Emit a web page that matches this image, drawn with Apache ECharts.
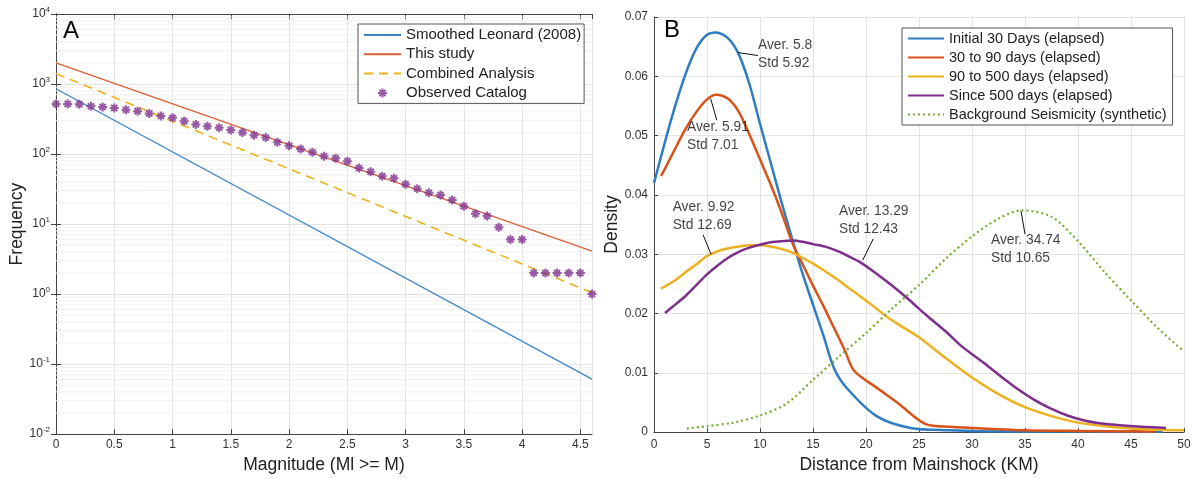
<!DOCTYPE html>
<html><head><meta charset="utf-8">
<script src="https://cdn.jsdelivr.net/npm/echarts@6/dist/echarts.min.js"></script>
<style>html,body{margin:0;padding:0;background:#fff}#c{width:1195px;height:479px}</style>
</head><body><div id="c"></div><script>
// ---------- Panel A data ----------
const magnitudes = [0,0.1,0.2,0.3,0.4,0.5,0.6,0.7,0.8,0.9,1.0,1.1,1.2,1.3,1.4,1.5,1.6,1.7,1.8,1.9,2.0,2.1,2.2,2.3,2.4,2.5,2.6,2.7,2.8,2.9,3.0,3.1,3.2,3.3,3.4,3.5,3.6,3.7,3.8,3.9,4.0,4.1,4.2,4.3,4.4,4.5,4.6];
const observedCounts = [520,520,515,480,470,455,430,410,380,350,330,295,265,250,238,220,203,186,172,147,131,118,106,93,87,79,63,56,48,45,37,32,28,26,22,18,14,13,9,6,6,2,2,2,2,2,1];
const leonardLine = [[0, 855], [4.6, 0.061]];
const thisStudyLine = [[0, 2000], [4.6, 4.1]];
const combinedLine = [[0, 1410], [4.6, 1.05]];

// ---------- Panel B data ----------
const initial30 = [[0,0.042],[1,0.0487],[2,0.0550],[3,0.0605],[4,0.0647],[5,0.0670],[5.85,0.0674],[7,0.0664],[8,0.0637],[9,0.0587],[10,0.0520],[11,0.0455],[12,0.0390],[13,0.0328],[14,0.0268],[15,0.0215],[16,0.0162],[17,0.0107],[18.2,0.0074],[21,0.0027],[24.2,0.0007],[27.9,0.0003],[33,0.0001],[40,0.0001],[48,0.0001]];
const days30to90 = [[0.66,0.0432],[1,0.0443],[2,0.0478],[3,0.0512],[4,0.0540],[5,0.0561],[5.85,0.0569],[7,0.0562],[8,0.0540],[9,0.0502],[10,0.0460],[11,0.0418],[12,0.0372],[13.1,0.0317],[14,0.0284],[15,0.0247],[16,0.0212],[17,0.0175],[18,0.0138],[18.9,0.0103],[21,0.0075],[23,0.0049],[25.7,0.0013],[28,0.0009],[31,0.0006],[35,0.0003],[40,0.0002],[47.3,0.0001]];
const days90to500 = [[0.66,0.0242],[2,0.0256],[3,0.0270],[4,0.0283],[5,0.0297],[6,0.0305],[7,0.0310],[8,0.0313],[9,0.0315],[10,0.0315],[11,0.0313],[12,0.0309],[13,0.0303],[14,0.0294],[15,0.0284],[16,0.0273],[17,0.0261],[18,0.0248],[19,0.0235],[20,0.0222],[21,0.0208],[22,0.0194],[23.2,0.0180],[25,0.0160],[27.5,0.0125],[30,0.0092],[32.5,0.0064],[35,0.0042],[37.5,0.0027],[40,0.0016],[42.5,0.0010],[45,0.0006],[47.5,0.0004],[50,0.0003]];
const since500 = [[1.04,0.0201],[2,0.0215],[3,0.0230],[4,0.0248],[5,0.0266],[6,0.0281],[7,0.0294],[8,0.0304],[9,0.0311],[10,0.0316],[11,0.0320],[12,0.0322],[13.1,0.0323],[14,0.0321],[15,0.0317],[16.3,0.0312],[17.5,0.0304],[18.5,0.0295],[19.4,0.0287],[21,0.0267],[22.6,0.0245],[24,0.0224],[25.7,0.0197],[27.5,0.0170],[29,0.0145],[31.1,0.0117],[32.5,0.0097],[34.2,0.0074],[36,0.0053],[37.4,0.0040],[39,0.0028],[40.5,0.0020],[42,0.0015],[43.7,0.0012],[46,0.0009],[48.3,0.0007]];
const background = [[3.1,0.0006],[5,0.0010],[7.5,0.0016],[10,0.0028],[12.5,0.0048],[15,0.0088],[17.5,0.0128],[20,0.0167],[22.5,0.0209],[25,0.0248],[27.5,0.0292],[30,0.0330],[32.5,0.0360],[34.7,0.0374],[37.5,0.0363],[40,0.0322],[42.5,0.0270],[45,0.0222],[47.5,0.0176],[50,0.0136]];

const annotationTexts = ['Aver. 5.8\nStd 5.92','Aver. 5.91\nStd 7.01','Aver. 9.92\nStd 12.69','Aver. 13.29\nStd 12.43','Aver. 34.74\nStd 10.65'];
const annotationAnchors = [[9.81,0.0638],[3.11,0.0499],[1.76,0.0364],[17.45,0.0358],[31.79,0.0308]];
const annotationPointers = [
  [[7.92,0.0640],[9.81,0.0635]],
  [[5.35,0.0562],[5.92,0.0526]],
  [[4.62,0.0333],[5.38,0.0300]],
  [[20.69,0.0326],[19.69,0.0290]],
  [[34.62,0.0373],[35.0,0.0334]]
];

const FONT = 'Liberation Sans, Arial, Helvetica, sans-serif';
const AX = '#444';
const LBL = '#333';
const GRIDC = '#e3e3e3';

const minorGridValues = [];
for (let e = -2; e < 4; e++) for (let k = 2; k <= 9; k++) minorGridValues.push(k * Math.pow(10, e));

const asterisk = 'path://M5,0L5,10M0,5L10,5M1.6,1.6L8.4,8.4M1.6,8.4L8.4,1.6';
const hideSym = {itemStyle: {opacity: 0}};

const minorGridSeries = minorGridValues.map(v => ({
  type: 'line', name: '_g' + v, xAxisIndex: 0, yAxisIndex: 0, data: [[0, v], [4.6, v]],
  symbol: 'none', silent: true, z: 1, lineStyle: {color: '#f0f0f0', width: 1}
}));

const chart = echarts.init(document.getElementById('c'), null, {renderer: 'canvas'});
const option = {
  animation: false,
  backgroundColor: '#fff',
  textStyle: {fontFamily: FONT},
  grid: [
    {left: 56, right: 603, top: 14, bottom: 42},
    {left: 654, right: 11, top: 17, bottom: 42}
  ],
  xAxis: [
    {gridIndex: 0, type: 'value', min: 0, max: 4.6, interval: 0.5,
     name: 'Magnitude (Ml >= M)', nameLocation: 'middle', nameGap: 13,
     nameTextStyle: {fontSize: 17.5, color: '#222', fontFamily: FONT},
     axisLine: {lineStyle: {color: AX}}, axisTick: {inside: true, length: 5, lineStyle: {color: AX}},
     axisLabel: {fontSize: 12, color: LBL, margin: 5, showMaxLabel: false, fontFamily: FONT},
     splitLine: {show: true, lineStyle: {color: GRIDC}}},
    {gridIndex: 0, type: 'value', min: 0, max: 4.6, interval: 0.5, position: 'top',
     axisLine: {lineStyle: {color: AX}}, axisTick: {inside: true, length: 5, lineStyle: {color: AX}},
     axisLabel: {show: false}, splitLine: {show: false}},
    {gridIndex: 1, type: 'value', min: 0, max: 50, interval: 5,
     name: 'Distance from Mainshock (KM)', nameLocation: 'middle', nameGap: 13,
     nameTextStyle: {fontSize: 17.5, color: '#222', fontFamily: FONT},
     axisLine: {lineStyle: {color: AX}}, axisTick: {inside: true, length: 4, lineStyle: {color: AX}},
     axisLabel: {fontSize: 12, color: LBL, margin: 7, fontFamily: FONT},
     splitLine: {show: true, lineStyle: {color: GRIDC}}}
  ],
  yAxis: [
    {gridIndex: 0, type: 'log', logBase: 10, min: 0.01, max: 10000,
     name: 'Frequency', nameLocation: 'middle', nameGap: 30, nameMoveOverlap: false,
     nameTextStyle: {fontSize: 17.5, color: '#222', fontFamily: FONT},
     axisLine: {show: true, lineStyle: {color: AX}}, axisTick: {show: true, inside: true, length: 5, lineStyle: {color: AX}},
     axisLabel: {margin: 6, formatter: v => '{b|10}{s|' + Math.round(Math.log10(v)) + '}',
       rich: {b: {fontSize: 12, color: LBL, fontFamily: FONT, lineHeight: 16},
              s: {fontSize: 8, color: LBL, fontFamily: FONT, verticalAlign: 'top', lineHeight: 8, padding: [0, 0, 8, 0]}}},
     splitLine: {show: true, lineStyle: {color: GRIDC}}},
    {gridIndex: 0, type: 'log', logBase: 10, min: 0.01, max: 10000, position: 'right',
     axisLine: {show: true, lineStyle: {color: AX}}, axisTick: {show: true, inside: true, length: 5, lineStyle: {color: AX}},
     axisLabel: {show: false}, splitLine: {show: false}},
    {gridIndex: 1, type: 'value', min: 0, max: 0.07, interval: 0.01,
     name: 'Density', nameLocation: 'middle', nameGap: 17,
     nameTextStyle: {fontSize: 17.5, color: '#222', fontFamily: FONT},
     axisLine: {show: true, lineStyle: {color: AX}}, axisTick: {show: true, inside: true, length: 4, lineStyle: {color: AX}},
     axisLabel: {fontSize: 12, color: LBL, margin: 6, fontFamily: FONT},
     splitLine: {show: true, lineStyle: {color: GRIDC}}}
  ],
  legend: [
    {left: 358, top: 24, orient: 'vertical', itemWidth: 37, itemHeight: 9, itemGap: 4.3,
     padding: [3.5, 3, 3, 5], backgroundColor: '#fff', borderColor: '#555', borderWidth: 1,
     textStyle: {fontSize: 15, color: '#222', fontFamily: FONT},
     data: [
       Object.assign({name: 'Smoothed Leonard (2008)'}, hideSym),
       Object.assign({name: 'This study'}, hideSym),
       Object.assign({name: 'Combined Analysis'}, hideSym),
       {name: 'Observed Catalog'}
     ]},
    {left: 902, top: 28, orient: 'vertical', itemWidth: 36, itemHeight: 14, itemGap: 4,
     padding: [3, 6, 3, 5], backgroundColor: '#fff', borderColor: '#555', borderWidth: 1,
     textStyle: {fontSize: 14.5, color: '#222', fontFamily: FONT},
     data: ['Initial 30 Days (elapsed)', '30 to 90 days (elapsed)', '90 to 500 days (elapsed)', 'Since 500 days (elapsed)', 'Background Seismicity (synthetic)']
       .map(n => Object.assign({name: n}, hideSym))}
  ],
  graphic: [
    {type: 'text', left: 63, top: 19, z: 10, style: {text: 'A', font: '24px ' + FONT, fill: '#000'}},
    {type: 'text', left: 664, top: 18, z: 10, style: {text: 'B', font: '24px ' + FONT, fill: '#000'}}
  ],
  series: minorGridSeries.concat([
    {type: 'line', name: 'Smoothed Leonard (2008)', xAxisIndex: 0, yAxisIndex: 0, data: leonardLine,
     symbol: 'circle', showSymbol: false, lineStyle: {color: '#3f86c8', width: 1.3}, itemStyle: {color: '#3f86c8'}, z: 2},
    {type: 'line', name: 'This study', xAxisIndex: 0, yAxisIndex: 0, data: thisStudyLine,
     symbol: 'circle', showSymbol: false, lineStyle: {color: '#d9603a', width: 1.3}, itemStyle: {color: '#d9603a'}, z: 2},
    {type: 'line', name: 'Combined Analysis', xAxisIndex: 0, yAxisIndex: 0, data: combinedLine,
     symbol: 'circle', showSymbol: false, lineStyle: {color: '#EDB120', width: 1.6, type: [9, 6]}, itemStyle: {color: '#EDB120'}, z: 2},
    {type: 'scatter', name: 'Observed Catalog', xAxisIndex: 0, yAxisIndex: 0,
     data: magnitudes.map((m, i) => [m, observedCounts[i]]),
     symbol: asterisk, symbolSize: 9, symbolKeepAspect: true,
     itemStyle: {color: '#7E2F8E', borderColor: '#7E2F8E', borderWidth: 2}, z: 3},

    {type: 'line', name: 'Initial 30 Days (elapsed)', xAxisIndex: 2, yAxisIndex: 2, data: initial30,
     symbol: 'circle', showSymbol: false, smooth: 0.3,
     lineStyle: {color: '#2f7cc2', width: 2.5}, itemStyle: {color: '#2f7cc2'}, z: 2},
    {type: 'line', name: '30 to 90 days (elapsed)', xAxisIndex: 2, yAxisIndex: 2, data: days30to90,
     symbol: 'circle', showSymbol: false, smooth: 0.3,
     lineStyle: {color: '#D95319', width: 2.5}, itemStyle: {color: '#D95319'}, z: 2},
    {type: 'line', name: '90 to 500 days (elapsed)', xAxisIndex: 2, yAxisIndex: 2, data: days90to500,
     symbol: 'circle', showSymbol: false, smooth: 0.3,
     lineStyle: {color: '#EDB120', width: 2.5}, itemStyle: {color: '#EDB120'}, z: 2},
    {type: 'line', name: 'Since 500 days (elapsed)', xAxisIndex: 2, yAxisIndex: 2, data: since500,
     symbol: 'circle', showSymbol: false, smooth: 0.3,
     lineStyle: {color: '#7E2F8E', width: 2.5}, itemStyle: {color: '#7E2F8E'}, z: 2},
    {type: 'line', name: 'Background Seismicity (synthetic)', xAxisIndex: 2, yAxisIndex: 2, data: background,
     symbol: 'circle', showSymbol: false, smooth: 0.3,
     lineStyle: {color: '#77AC30', width: 2.2, type: [2, 3]}, itemStyle: {color: '#77AC30'}, z: 2},
    {type: 'scatter', name: 'annotations', xAxisIndex: 2, yAxisIndex: 2, symbolSize: 0, silent: true, z: 5,
     data: annotationAnchors.map((a, i) => ({value: a, text: annotationTexts[i]})),
     label: {show: true, position: [0, 0], align: 'left', verticalAlign: 'middle',
       formatter: p => p.data.text, fontSize: 13.8, lineHeight: 18, color: '#111', fontFamily: FONT},
     markLine: {silent: true, symbol: ['none', 'none'], label: {show: false}, animation: false,
       lineStyle: {color: '#111', width: 1, type: 'solid'},
       data: annotationPointers.map(p => [{coord: p[0]}, {coord: p[1]}])}}
  ])
};
chart.setOption(option);
</script></body></html>
